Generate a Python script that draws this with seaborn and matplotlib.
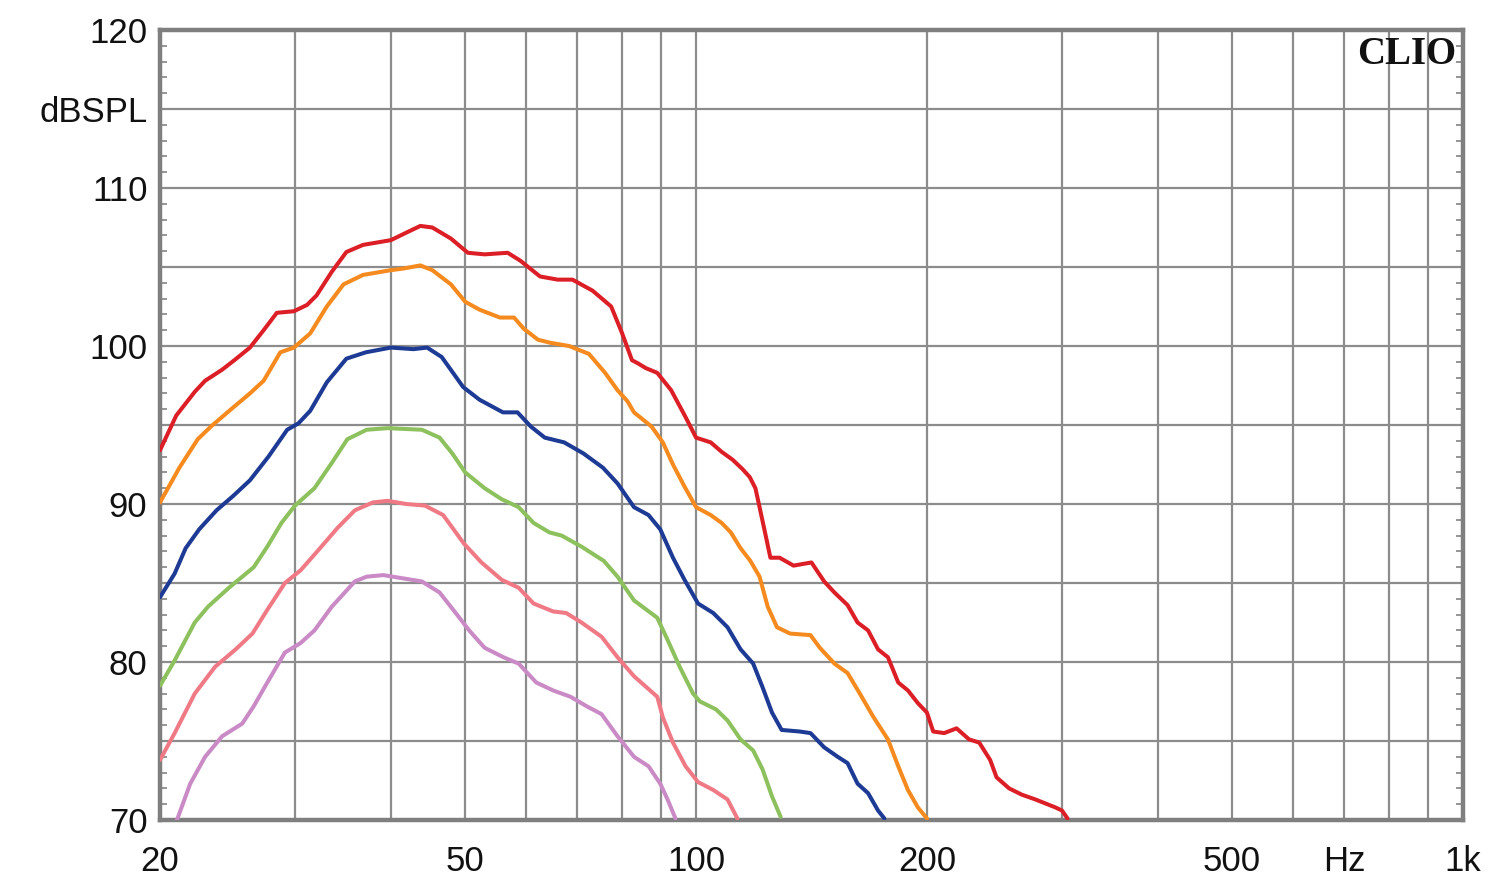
import numpy as np
import pandas as pd
import matplotlib
matplotlib.use("Agg")
import matplotlib.pyplot as plt
import seaborn as sns
from matplotlib.ticker import FixedLocator, FixedFormatter, NullFormatter

# ---------------- data ----------------
red_f = [20, 21.0, 22.2, 22.9, 24.1, 25.0, 26.2, 27.3, 28.4, 29.9, 31.1, 32.0, 33.5, 35.0, 36.8, 40.0, 42.0, 43.7,
         45.3, 47.9, 50.4, 53, 56.8, 59.0, 62.6, 66, 69.0, 73.3, 77.5, 80.1, 82.5, 84.0, 86.0, 89.0, 92.8, 96.9, 100,
         104.5, 108, 111.6, 115, 117.5, 119.5, 121, 123, 125, 128.5, 134, 141.4, 146.9, 151.5, 157.6, 162.4, 167.6,
         172.7, 177.9, 183.5, 188.9, 194.6, 200, 203.8, 210.6, 218.6, 227, 234, 241.8, 246.5, 256, 266, 277, 294,
         300, 305]
red_db = [93.4, 95.6, 97.1, 97.8, 98.5, 99.1, 99.9, 101.0, 102.1, 102.2, 102.6, 103.2, 104.7, 105.95, 106.4, 106.7,
          107.2, 107.6, 107.5, 106.8, 105.9, 105.8, 105.9, 105.4, 104.4, 104.2, 104.2, 103.5, 102.5, 100.8, 99.1,
          98.9, 98.6, 98.3, 97.2, 95.5, 94.2, 93.9, 93.3, 92.8, 92.2, 91.7, 91.0, 89.8, 88.2, 86.6, 86.6, 86.1, 86.3,
          85.1, 84.4, 83.6, 82.5, 82.0, 80.8, 80.3, 78.7, 78.2, 77.4, 76.8, 75.6, 75.5, 75.8, 75.1, 74.9, 73.8, 72.7,
          72.0, 71.6, 71.3, 70.8, 70.6, 70.1]

orange_f = [20, 21.2, 22.4, 23.3, 24.9, 26.2, 27.3, 28.7, 29.9, 31.4, 33.0, 34.7, 36.8, 40.0, 41.5, 43.7, 45.3,
            47.9, 50.0, 52.2, 55.5, 57.9, 59.6, 62.2, 64.6, 68.3, 72.5, 76.1, 79.0, 81.4, 83.0, 87.5, 90.5, 93.3,
            96.6, 100, 104.5, 108, 111, 114.3, 117.7, 121, 124, 127.5, 132.6, 141, 145, 151.5, 157.6, 163.5, 170.4,
            177.9, 183.5, 188.9, 194.6, 200]
orange_db = [90.1, 92.3, 94.1, 94.9, 96.1, 97.0, 97.8, 99.6, 99.9, 100.8, 102.5, 103.9, 104.5, 104.8, 104.9, 105.1,
             104.8, 103.9, 102.8, 102.3, 101.8, 101.8, 101.1, 100.4, 100.2, 100.0, 99.5, 98.3, 97.2, 96.5, 95.8,
             94.9, 93.9, 92.5, 91.1, 89.8, 89.3, 88.8, 88.2, 87.2, 86.4, 85.4, 83.5, 82.2, 81.8, 81.7, 80.9, 79.9,
             79.3, 78.0, 76.5, 75.1, 73.4, 71.9, 70.8, 70.1]

blue_f = [20, 20.9, 21.6, 22.5, 23.7, 24.9, 26.2, 27.7, 29.3, 30.3, 31.4, 33.0, 35.0, 37.1, 40.0, 42.8, 44.6, 46.6,
          49.7, 52.2, 56.0, 58.5, 60.9, 63.5, 67.3, 71.3, 75.6, 79.0, 83.0, 86.7, 89.8, 93.3, 96.6, 100.6, 105.3,
          109.9, 114.3, 118.7, 122.1, 125.6, 129.3, 136.5, 141, 146.9, 153, 157.6, 162.4, 167.6, 172.7, 176]
blue_db = [84.1, 85.6, 87.2, 88.4, 89.6, 90.5, 91.5, 93.0, 94.7, 95.1, 95.9, 97.7, 99.2, 99.6, 99.9, 99.8, 99.9, 99.3,
           97.4, 96.6, 95.8, 95.8, 94.9, 94.2, 93.9, 93.2, 92.3, 91.3, 89.8, 89.3, 88.4, 86.6, 85.2, 83.7, 83.1,
           82.2, 80.8, 79.9, 78.4, 76.8, 75.7, 75.6, 75.5, 74.6, 74.0, 73.6, 72.3, 71.7, 70.6, 70.1]

green_f = [20, 20.9, 22.2, 23.1, 24.6, 26.5, 27.6, 28.8, 30.0, 31.8, 33.5, 35.1, 37.2, 39.6, 43.9, 46.3, 48.1, 50.0,
           53.0, 55.8, 58.7, 61.4, 64.4, 66.8, 70.9, 75.8, 79.0, 83.0, 89.0, 91.8, 95.2, 99.1, 101.2, 106.2, 109.9,
           114.3, 118.7, 122.1, 125.6, 128.9]
green_db = [78.5, 80.1, 82.5, 83.5, 84.7, 86.0, 87.3, 88.8, 89.9, 91.0, 92.6, 94.1, 94.7, 94.8, 94.7, 94.2, 93.2,
            92.0, 91.0, 90.3, 89.8, 88.8, 88.2, 88.0, 87.3, 86.4, 85.4, 83.9, 82.8, 81.4, 79.7, 78.0, 77.5, 77.0,
            76.3, 75.1, 74.4, 73.2, 71.5, 70.2]

pink_f = [20, 20.9, 22.2, 23.6, 25.1, 26.4, 27.6, 29.1, 30.5, 32.2, 34.1, 35.9, 37.9, 39.6, 41.9, 44.3, 46.8, 49.8,
          52.5, 55.8, 58.7, 61.4, 65.1, 67.7, 70.9, 75.3, 79.0, 83.0, 89.0, 90.5, 93.3, 96.9, 100.6, 105.3, 109.9,
          113.2]
pink_db = [73.8, 75.5, 78.0, 79.7, 80.8, 81.8, 83.3, 85.0, 85.8, 87.1, 88.5, 89.6, 90.1, 90.2, 90.0, 89.9, 89.3,
           87.5, 86.3, 85.2, 84.7, 83.7, 83.2, 83.1, 82.5, 81.6, 80.3, 79.1, 77.8, 76.5, 74.9, 73.4, 72.4, 71.9,
           71.3, 70.1]

purple_f = [20.9, 21.9, 22.9, 24.1, 25.6, 26.5, 27.6, 29.1, 30.5, 31.8, 33.5, 35.9, 37.2, 39.1, 41.4, 43.9, 46.3,
            48.6, 50.6, 53.0, 56.1, 58.7, 61.9, 65.1, 68.6, 72.0, 75.3, 79.0, 83.0, 86.7, 89.8, 91.8, 94]
purple_db = [69.6, 72.3, 74.0, 75.3, 76.1, 77.2, 78.7, 80.6, 81.2, 82.0, 83.5, 85.1, 85.4, 85.5, 85.3, 85.1, 84.4,
             83.1, 82.0, 80.9, 80.3, 79.9, 78.7, 78.2, 77.8, 77.2, 76.7, 75.3, 74.0, 73.4, 72.3, 71.3, 70.1]

series_names = ["red", "orange", "blue", "green", "pink", "purple"]
series_f = [red_f, orange_f, blue_f, green_f, pink_f, purple_f]
series_db = [red_db, orange_db, blue_db, green_db, pink_db, purple_db]
colors = ["#dc1e26", "#f58a1f", "#1d3a94", "#8cc15e", "#ef7a85", "#c98ac6"]

x_tick_vals = [20, 50, 100, 200, 500, 700, 1000]
x_tick_labels = ["20", "50", "100", "200", "500", "Hz", "1k"]
x_grid_minor = [30, 40, 60, 70, 80, 90, 300, 400, 600, 800, 900]
y_tick_vals = [70, 75, 80, 85, 90, 95, 100, 105, 110, 115, 120]
y_tick_labels = ["70", "", "80", "", "90", "", "100", "", "110", "dBSPL", "120"]

# ---------------- build table ----------------
rows = []
for name, fs, dbs in zip(series_names, series_f, series_db):
    for f, d in zip(fs, dbs):
        rows.append((name, f, d))
df = pd.DataFrame(rows, columns=["series", "freq", "spl"])

sns.set_theme(style="white")
plt.rcParams["font.family"] = ["Liberation Sans", "DejaVu Sans"]
plt.rcParams["lines.solid_joinstyle"] = "round"
plt.rcParams["lines.solid_capstyle"] = "round"

fig = plt.figure(figsize=(15, 8.94), dpi=100)
ax = fig.add_axes([160 / 1500, 1 - 820 / 894, (1463 - 160) / 1500, (820 - 30) / 894])

sns.lineplot(data=df, x="freq", y="spl", hue="series", hue_order=series_names,
             palette=dict(zip(series_names, colors)), estimator=None, sort=False,
             linewidth=2.9, legend=False, ax=ax, zorder=3)

ax.set_xscale("log")
ax.set_xlim(20, 1000)
ax.set_ylim(70, 120)

ax.xaxis.set_major_locator(FixedLocator(x_tick_vals))
ax.xaxis.set_major_formatter(FixedFormatter(x_tick_labels))
ax.xaxis.set_minor_locator(FixedLocator(x_grid_minor))
ax.xaxis.set_minor_formatter(NullFormatter())
ax.yaxis.set_major_locator(FixedLocator(y_tick_vals))
ax.yaxis.set_major_formatter(FixedFormatter(y_tick_labels))
ax.yaxis.set_minor_locator(FixedLocator(list(range(70, 121))))

gcol = "#8c8c8c"
ax.grid(True, which="both", axis="x", color=gcol, linewidth=1.6)
ax.grid(True, which="major", axis="y", color=gcol, linewidth=1.6)
ax.set_axisbelow(True)

ax.tick_params(axis="x", which="both", length=0, pad=18, labelsize=25, labelcolor="#111111")
ax.tick_params(axis="y", which="major", length=0, pad=9, labelsize=25, labelcolor="#111111")
ax.tick_params(axis="y", which="minor", direction="in", length=5, width=1.3, color=gcol,
               left=True, right=True)

for sp in ax.spines.values():
    sp.set_visible(True)
    sp.set_color("#7f7f7f")
    sp.set_linewidth(3.2)

ax.set_xlabel("")
ax.set_ylabel("")

ax.text(0.995, 0.992, "CLIO", transform=ax.transAxes, ha="right", va="top",
        fontsize=28, fontweight="bold", family=["Liberation Serif", "DejaVu Serif"], color="#111111", zorder=5)

fig.savefig("out.png", dpi=100, facecolor="white")
